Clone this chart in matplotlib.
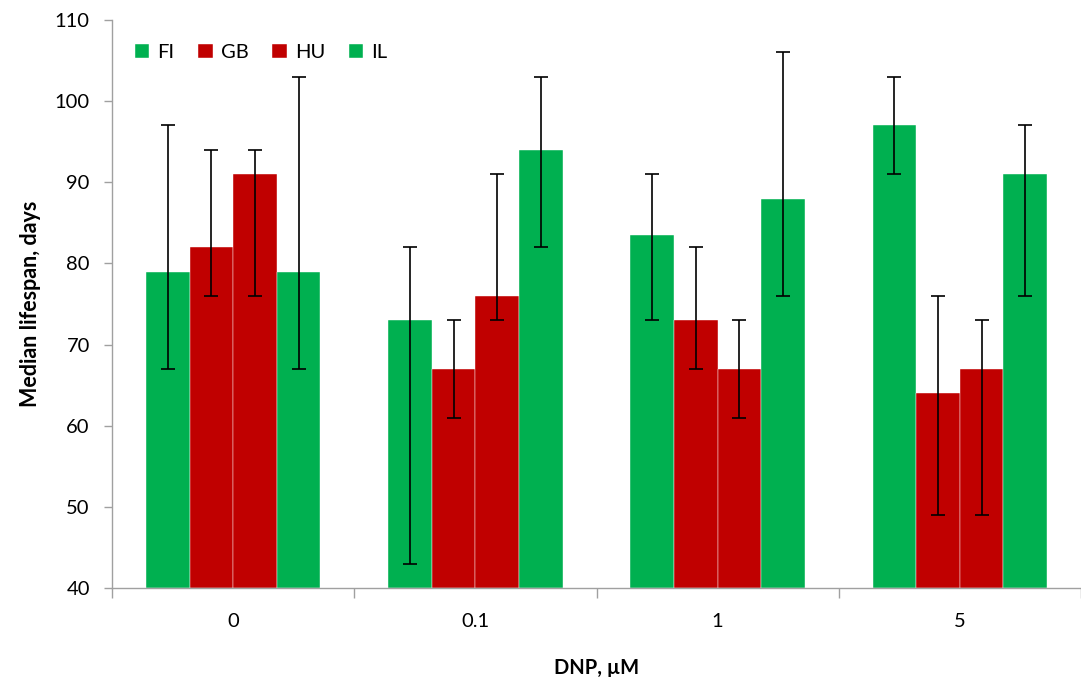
import matplotlib.pyplot as plt
import numpy as np

plt.rcParams['font.family'] = ['Lato', 'DejaVu Sans']

doses = ['0', '0.1', '1', '5']
series = ['FI', 'GB', 'HU', 'IL']
colors = ['#00b050', '#c00000', '#c00000', '#00b050']

fi = [79, 73, 83.5, 97]
gb = [82, 67, 73, 64]
hu = [91, 76, 67, 67]
il = [79, 94, 88, 91]

fi_lo = [67, 43, 73, 91]
fi_hi = [97, 82, 91, 103]
gb_lo = [76, 61, 67, 49]
gb_hi = [94, 73, 82, 76]
hu_lo = [76, 73, 61, 49]
hu_hi = [94, 91, 73, 73]
il_lo = [67, 82, 76, 76]
il_hi = [103, 103, 106, 97]

values = [fi, gb, hu, il]
lows = [fi_lo, gb_lo, hu_lo, il_lo]
highs = [fi_hi, gb_hi, hu_hi, il_hi]

fig = plt.figure(figsize=(10.81, 6.77), dpi=100)
ax = fig.add_axes([112 / 1081, 1 - 588 / 677, 1 - 112 / 1081, (588 - 20) / 677])

x = np.arange(len(doses))
w = 0.18
for i, name in enumerate(series):
    pos = x + (i - 1.5) * w
    v = np.array(values[i])
    err = [v - np.array(lows[i]), np.array(highs[i]) - v]
    ax.bar(pos, v - 40, bottom=40, width=w, color=colors[i], label=name,
           edgecolor='#ffffff', linewidth=0.3)
    ax.errorbar(pos, v, yerr=err, fmt='none', ecolor='black', elinewidth=1.2,
                capsize=5, capthick=1.2)

ax.set_ylim(40, 110)
ax.set_xlim(-0.5, 3.455)
ax.set_yticks(range(40, 111, 10))
ax.set_xticks(x)
ax.set_xticklabels(doses)
ax.set_xticks(np.arange(-0.5, 4, 1), minor=True)
ax.tick_params(axis='x', which='major', length=0, pad=18, labelsize=14.5)
ax.tick_params(axis='x', which='minor', length=7, color='#a0a0a0', width=1)
ax.tick_params(axis='y', length=6, color='#a0a0a0', width=1, labelsize=14.5, pad=10)

for s in ['top', 'right']:
    ax.spines[s].set_visible(False)
for s in ['left', 'bottom']:
    ax.spines[s].set_color('#a0a0a0')
    ax.spines[s].set_linewidth(1)

ax.set_xlabel('DNP, µM', fontsize=14.5, fontweight='bold', labelpad=20)
ax.set_ylabel('Median lifespan, days', fontsize=15.5, fontweight='bold', labelpad=10)

ax.legend(loc='upper left', ncol=4, frameon=False, fontsize=14.5,
          handlelength=0.7, handleheight=0.7, handletextpad=0.4, columnspacing=1.2,
          bbox_to_anchor=(0.005, 0.99))

fig.savefig('out.png', dpi=100)
